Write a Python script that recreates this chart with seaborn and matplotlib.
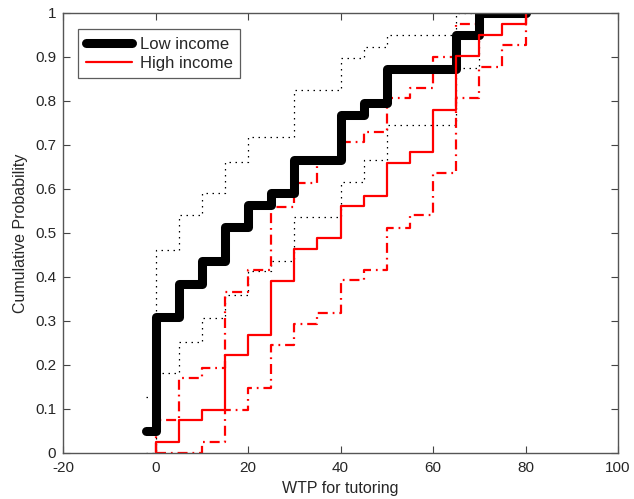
import numpy as np
import pandas as pd
import matplotlib
matplotlib.use("Agg")
import matplotlib.pyplot as plt
import seaborn as sns

# --- step values (x = start of each step) ---
low_x = [-2, 0, 5, 10, 15, 20, 25, 30, 40, 45, 50, 65, 70, 80]
low_f = [0.051, 0.308, 0.385, 0.436, 0.513, 0.564, 0.590, 0.667, 0.769, 0.795, 0.872, 0.949, 1.0, 1.0]

low_up_x = [-2, 0, 5, 10, 15, 20, 30, 40, 45, 50, 65, 80]
low_up_f = [0.127, 0.461, 0.541, 0.590, 0.661, 0.718, 0.825, 0.897, 0.923, 0.950, 1.0, 1.0]

low_lo_x = [-2, 0, 5, 10, 15, 20, 25, 30, 40, 45, 50, 65, 70, 80]
low_lo_f = [0.0, 0.182, 0.252, 0.307, 0.360, 0.414, 0.436, 0.536, 0.616, 0.666, 0.745, 0.875, 1.0, 1.0]

high_x = [0, 0, 5, 10, 15, 20, 25, 30, 35, 40, 45, 50, 55, 60, 65, 70, 75, 80]
high_f = [0.0, 0.025, 0.075, 0.098, 0.222, 0.268, 0.390, 0.463, 0.488, 0.561, 0.585, 0.659, 0.683, 0.780, 0.902, 0.951, 0.976, 1.0]

high_up_x = [0, 0, 5, 10, 15, 20, 25, 30, 35, 40, 45, 50, 55, 60, 65, 70, 80]
high_up_f = [0.0, 0.075, 0.170, 0.193, 0.366, 0.416, 0.560, 0.613, 0.659, 0.707, 0.730, 0.806, 0.830, 0.900, 0.976, 1.0, 1.0]

high_lo_x = [0, 10, 15, 20, 25, 30, 35, 40, 45, 50, 55, 60, 65, 70, 75, 80]
high_lo_f = [0.0, 0.025, 0.098, 0.148, 0.245, 0.293, 0.318, 0.393, 0.416, 0.511, 0.541, 0.636, 0.807, 0.877, 0.927, 1.0]

x_ticks = [-20, 0, 20, 40, 60, 80, 100]
y_ticks = [0, 0.1, 0.2, 0.3, 0.4, 0.5, 0.6, 0.7, 0.8, 0.9, 1]
y_ticklabels = ["0", "0.1", "0.2", "0.3", "0.4", "0.5", "0.6", "0.7", "0.8", "0.9", "1"]

sns.set_style("ticks")
plt.rcParams['font.family'] = ['Liberation Sans', 'DejaVu Sans']
plt.rcParams['axes.unicode_minus'] = False

fig = plt.figure(figsize=(6.34, 4.99), dpi=100)
ax = fig.add_axes([0.0994, 0.0922, 0.8754, 0.8818])

def stairs(x, f, **kw):
    d = pd.DataFrame({'x': x, 'f': f})
    sns.lineplot(data=d, x='x', y='f', ax=ax, sort=False, estimator=None,
                 drawstyle='steps-post', **kw)

dot = (0, (1.2, 3.6))
dashdot = (0, (4.5, 2.2, 0.8, 2.2))

# bands first, main curves on top
stairs(low_up_x, low_up_f, color='black', lw=0.9, linestyle=dot)
stairs(low_lo_x, low_lo_f, color='black', lw=0.9, linestyle=dot)
stairs(high_up_x, high_up_f, color='red', lw=1.6, linestyle=dashdot)
stairs(high_lo_x, high_lo_f, color='red', lw=1.6, linestyle=dashdot)
stairs(low_x, low_f, color='black', lw=6.5, label='Low income')
stairs(high_x, high_f, color='red', lw=1.6, label='High income')

ax.set_xlim(-20, 100)
ax.set_ylim(0, 1)
ax.set_xticks(x_ticks)
ax.set_yticks(y_ticks)
ax.set_yticklabels(y_ticklabels)
ax.set_xlabel('WTP for tutoring', fontsize=11.5, labelpad=4)
ax.set_ylabel('Cumulative Probability', fontsize=11.5, labelpad=5)
ax.tick_params(direction='in', length=5, width=0.8, color='#444444',
               labelsize=11, top=True, right=True)
ax.tick_params(axis='x', pad=6)
ax.tick_params(axis='y', pad=5)
for s in ax.spines.values():
    s.set_visible(True)
    s.set_color('#555555')
    s.set_linewidth(1.0)

leg = ax.legend(loc='upper left', bbox_to_anchor=(0.027, 0.963), fontsize=12,
                frameon=True, fancybox=False, handlelength=2.8, borderpad=0.45,
                labelspacing=0.25, handletextpad=0.45, borderaxespad=0)
leg.get_frame().set_edgecolor('#333333')
leg.get_frame().set_linewidth(0.9)

fig.savefig('out.png', dpi=100)
